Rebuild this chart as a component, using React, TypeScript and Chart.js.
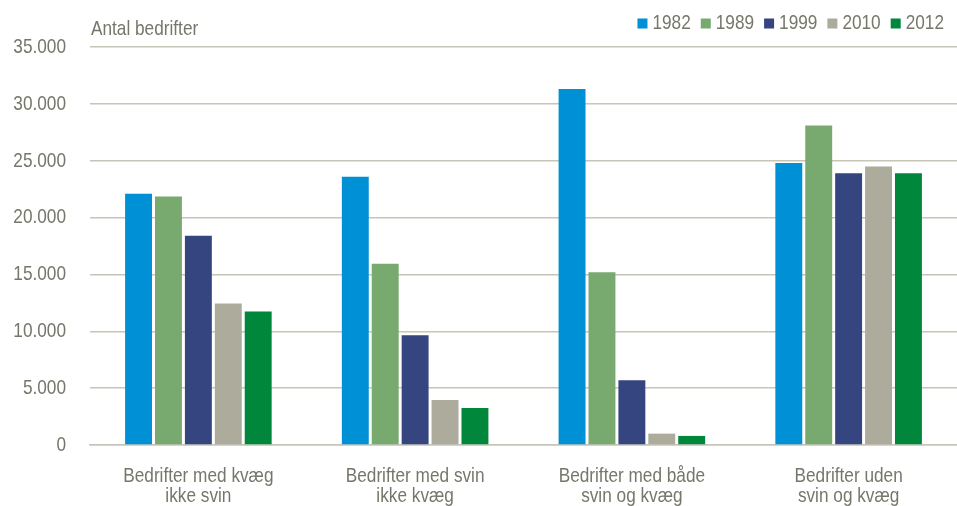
import React, { useEffect, useRef } from "react";
import { Chart, registerables } from "chart.js";

Chart.register(...registerables);

const categories: string[][] = [
  ["Bedrifter med kvæg", "ikke svin"],
  ["Bedrifter med svin", "ikke kvæg"],
  ["Bedrifter med både", "svin og kvæg"],
  ["Bedrifter uden", "svin og kvæg"],
];

const seriesLabels = ["1982", "1989", "1999", "2010", "2012"];
const values1982 = [22100, 23600, 31300, 24800];
const values1989 = [21850, 15950, 15200, 28100];
const values1999 = [18400, 9650, 5700, 23900];
const values2010 = [12450, 3950, 1000, 24500];
const values2012 = [11750, 3250, 800, 23900];
const seriesColors = ["#0090d6", "#78aa6f", "#35457f", "#acab9c", "#00873c"];

const yMax = 35000;
const yStep = 5000;
const yTitle = "Antal bedrifter";

const FONT = "'Liberation Sans', Arial, sans-serif";
const TEXT = "#76766a";
const CONDENSE = 0.82;

function fmt(v: number): string {
  return Math.round(v)
    .toString()
    .replace(/\B(?=(\d{3})+(?!\d))/g, ".");
}

// Make the canvas text narrow (like Arial Narrow) by scaling glyphs horizontally.
function condenseContext(ctx: any) {
  if (ctx.__condensed) return;
  ctx.__condensed = true;
  const origFill = ctx.fillText.bind(ctx);
  const origMeasure = ctx.measureText.bind(ctx);
  ctx.fillText = (text: string, x: number, y: number, maxWidth?: number) => {
    ctx.save();
    ctx.translate(x, y);
    ctx.scale(CONDENSE, 1);
    if (maxWidth !== undefined) origFill(text, 0, 0, maxWidth / CONDENSE);
    else origFill(text, 0, 0);
    ctx.restore();
  };
  ctx.measureText = (text: string) => {
    const m = origMeasure(text);
    return {
      width: m.width * CONDENSE,
      actualBoundingBoxAscent: m.actualBoundingBoxAscent,
      actualBoundingBoxDescent: m.actualBoundingBoxDescent,
      actualBoundingBoxLeft: m.actualBoundingBoxLeft * CONDENSE,
      actualBoundingBoxRight: m.actualBoundingBoxRight * CONDENSE,
      fontBoundingBoxAscent: m.fontBoundingBoxAscent,
      fontBoundingBoxDescent: m.fontBoundingBoxDescent,
    };
  };
}

export default function App() {
  const ref = useRef<HTMLCanvasElement | null>(null);

  useEffect(() => {
    if (!ref.current) return;
    const ctx0 = ref.current.getContext("2d");
    condenseContext(ctx0);
    const all = [values1982, values1989, values1999, values2010, values2012];
    const decorPlugin = {
      id: "decor",
      afterDraw(chart: any) {
        const ctx = chart.ctx;
        ctx.save();
        ctx.font = `21px ${FONT}`;
        ctx.fillStyle = TEXT;
        ctx.textAlign = "left";
        ctx.textBaseline = "alphabetic";
        ctx.fillText(yTitle, chart.chartArea.left + 1, 35);
        // legend, right aligned
        const boxW = 10;
        const gapBox = 5;
        const gapItem = 10;
        const widths = seriesLabels.map((l) => ctx.measureText(l).width);
        let total = 0;
        widths.forEach((w, i) => {
          total += boxW + gapBox + w + (i < widths.length - 1 ? gapItem : 0);
        });
        let x = 944 - total;
        const cy = 23.5;
        ctx.textBaseline = "middle";
        seriesLabels.forEach((l, i) => {
          ctx.fillStyle = seriesColors[i];
          ctx.fillRect(x, cy - 5, boxW, boxW);
          ctx.fillStyle = TEXT;
          ctx.fillText(l, x + boxW + gapBox, cy);
          x += boxW + gapBox + widths[i] + gapItem;
        });
        ctx.restore();
      },
    };
    const chart = new Chart(ref.current, {
      type: "bar",
      data: {
        labels: categories,
        datasets: seriesLabels.map((l, i) => ({
          label: l,
          data: all[i],
          backgroundColor: seriesColors[i],
          borderWidth: 0,
          categoryPercentage: 0.69,
          barPercentage: 0.9,
        })),
      },
      options: {
        animation: false,
        responsive: false,
        layout: { padding: { top: 47, right: 0, bottom: 0, left: 0 } },
        plugins: {
          legend: { display: false },
          tooltip: { enabled: false },
        },
        scales: {
          x: {
            afterFit(scale: any) {
              scale.height = 61;
            },
            grid: { display: false },
            border: { display: true, color: "#c6c6b8", width: 1.5 },
            ticks: {
              color: TEXT,
              font: { family: FONT, size: 21, lineHeight: 0.95 },
              padding: 13,
              maxRotation: 0,
              autoSkip: false,
            },
          },
          y: {
            min: 0,
            max: yMax,
            afterFit(scale: any) {
              scale.width = 90;
            },
            border: { display: false },
            grid: { color: "#c6c6b8", lineWidth: 1.5, drawTicks: false },
            ticks: {
              stepSize: yStep,
              color: TEXT,
              padding: 24,
              font: { family: FONT, size: 21 },
              callback: (v: any) => fmt(Number(v)),
            },
          },
        },
      },
      plugins: [decorPlugin],
    });
    return () => chart.destroy();
  }, []);

  return (
    <div style={{ position: "fixed", left: 0, top: 0, width: 957, height: 506, background: "#fff" }}>
      <canvas ref={ref} width={957} height={506} style={{ width: 957, height: 506, display: "block" }} />
    </div>
  );
}
